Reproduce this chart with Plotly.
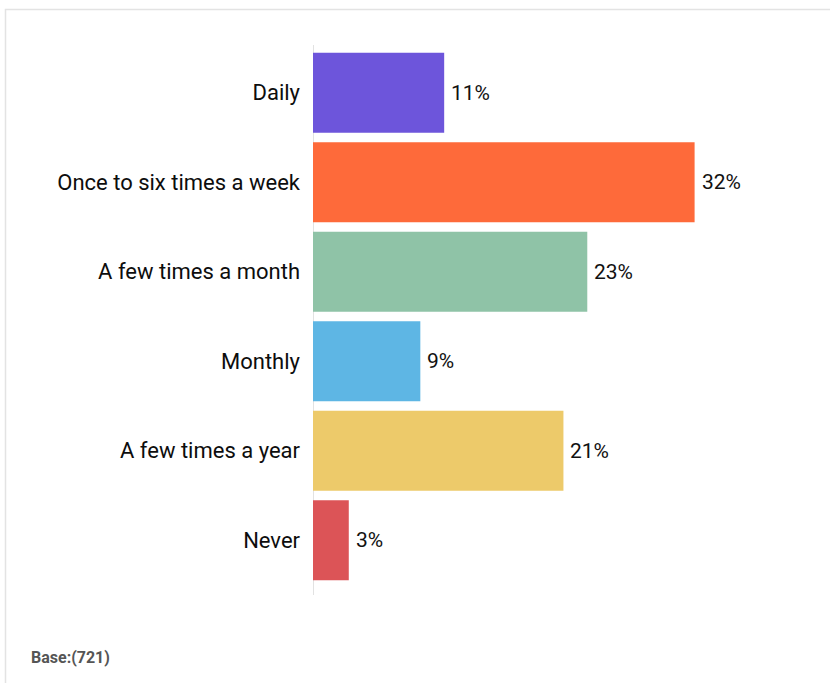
import plotly.graph_objects as go

categories = ["Daily", "Once to six times a week", "A few times a month",
              "Monthly", "A few times a year", "Never"]
values = [11, 32, 23, 9, 21, 3]
labels = ["11%", "32%", "23%", "9%", "21%", "3%"]
colors = ["#6D55DB", "#FE6A3A", "#8FC3A7", "#5EB6E4", "#EDCA6A", "#DC5457"]
base_note = "Base:(721)"

W, H = 830, 683
L, R, T, B = 313, 40, 48, 98
pw = W - L - R
ph = H - T - B

def px_x(px):
    return (px - L) / pw

def px_y(py):
    return (H - B - py) / ph

fig = go.Figure()
fig.add_trace(go.Bar(
    y=categories, x=values, orientation="h",
    marker=dict(color=colors, line=dict(width=0)),
    hoverinfo="skip",
))

annotations = [
    dict(x=v, y=c, xref="x", yref="y", text=t, showarrow=False,
         xanchor="left", yanchor="middle", xshift=5,
         font=dict(family="Roboto", size=21, color="#111111"))
    for c, v, t in zip(categories, values, labels)
]
annotations.append(
    dict(text=base_note, xref="paper", yref="paper",
         x=px_x(29), y=px_y(657), xanchor="left", yanchor="middle",
         showarrow=False,
         font=dict(family="Roboto", size=16, color="#555555", weight="bold")))

fig.update_layout(
    width=W, height=H,
    margin=dict(l=L, r=R, t=T, b=B, pad=0),
    paper_bgcolor="white", plot_bgcolor="white",
    showlegend=False,
    bargap=0.105,
    xaxis=dict(range=[0, 40], showgrid=False, zeroline=False,
               showticklabels=False, showline=False, ticks=""),
    yaxis=dict(autorange="reversed", showgrid=False, zeroline=False,
               showline=False, ticks="", ticklabelstandoff=12,
               tickfont=dict(family="Roboto", size=22, color="#0d0d0d")),
    font=dict(family="Roboto"),
    shapes=[
        dict(type="rect", xref="paper", yref="paper",
             x0=px_x(5.5), x1=px_x(840), y0=px_y(700), y1=px_y(9.5),
             line=dict(color="#e3e3e3", width=1.5), fillcolor="rgba(0,0,0,0)",
             layer="below"),
        dict(type="line", xref="x", yref="paper",
             x0=0, x1=0, y0=px_y(595), y1=px_y(45),
             line=dict(color="#d9d9d9", width=1.5), layer="below"),
    ],
    annotations=annotations,
)

fig.write_html("out.html",
               config={"displayModeBar": False},
               post_script="document.body.style.margin='0px';"
                           "document.body.style.overflow='hidden';")
